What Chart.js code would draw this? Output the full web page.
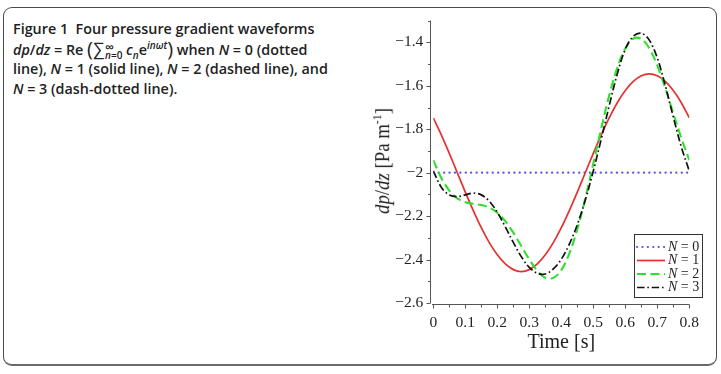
<!DOCTYPE html>
<html><head><meta charset="utf-8">
<script src="https://cdn.jsdelivr.net/npm/chart.js@4.4.0/dist/chart.umd.min.js"></script>
<style>
html,body{margin:0;padding:0;background:#fff;}
#wrap{position:relative;width:721px;height:374px;overflow:hidden;background:#fff;}
#frame{position:absolute;left:3px;top:7px;width:712px;height:356px;border:1.5px solid #4a4a4a;border-bottom:2.5px solid #6a6a6a;border-radius:9px;box-sizing:content-box;}
#cap{position:absolute;left:13px;top:19.3px;font-family:'Open Sans',sans-serif;font-weight:600;font-size:14.35px;color:#222;letter-spacing:0;white-space:nowrap;}
#cap .ln{height:19.3px;line-height:19.3px;}
#cap .ln2{margin-top:1.4px;}
#cap sup,#cap sub{font-size:10px;line-height:0;}
#cap .bp{font-size:20px;font-weight:400;line-height:0;vertical-align:-1px;}
#cap .sum{font-size:17.5px;font-weight:400;line-height:0;}
#cap .lim{display:inline-block;vertical-align:-4px;line-height:9px;font-size:10px;text-align:left;margin-left:1px;}
#cap .lim span{display:block;}
#cap .inf{font-size:13px;line-height:8px;}
canvas{position:absolute;left:0;top:0;}
#ytitle{position:absolute;left:382px;top:161px;transform:translate(-50%,-50%) rotate(-90deg) scaleX(0.94);font-family:'Liberation Serif',serif;font-size:20px;white-space:nowrap;color:#222;}
#ytitle sup{font-size:12.5px;}
</style>
</head><body>
<div id="wrap">
<div id="frame"></div>
<div id="cap">
<div class="ln">Figure 1&nbsp; Four pressure gradient waveforms</div>
<div class="ln ln2"><i>dp</i>/<i>dz</i> = Re <span class="bp">(</span><span class="sum">∑</span><span class="lim"><span class="inf">∞</span><span><i>n</i>=0</span></span> <i>c<sub>n</sub></i>e<sup><i>inωt</i></sup><span class="bp">)</span> when <i>N</i> = 0 (dotted</div>
<div class="ln">line), <i>N</i> = 1 (solid line), <i>N</i> = 2 (dashed line), and</div>
<div class="ln"><i>N</i> = 3 (dash-dotted line).</div>
</div>
<canvas id="c" width="721" height="374"></canvas>
<div id="ytitle"><i>dp</i>/<i>dz</i> [Pa m<sup>-1</sup>]</div>
</div>
<script>
const T = [0,0.025,0.05,0.075,0.1,0.125,0.15,0.175,0.2,0.225,0.25,0.275,0.3,0.325,0.35,0.375,0.4,0.425,0.45,0.475,0.5,0.525,0.55,0.575,0.6,0.625,0.65,0.675,0.7,0.725,0.75,0.775,0.8];
const N0 = [-2,-2,-2,-2,-2,-2,-2,-2,-2,-2,-2,-2,-2,-2,-2,-2,-2,-2,-2,-2,-2,-2,-2,-2,-2,-2,-2,-2,-2,-2,-2,-2,-2];
const N1 = [-1.747,-1.826,-1.911,-2.000,-2.089,-2.174,-2.253,-2.322,-2.378,-2.420,-2.446,-2.455,-2.446,-2.420,-2.378,-2.322,-2.253,-2.174,-2.089,-2.000,-1.911,-1.826,-1.747,-1.678,-1.622,-1.580,-1.554,-1.545,-1.554,-1.580,-1.622,-1.678,-1.747];
const N2 = [-1.942,-2.024,-2.082,-2.118,-2.136,-2.143,-2.149,-2.160,-2.184,-2.223,-2.276,-2.337,-2.399,-2.451,-2.483,-2.484,-2.448,-2.372,-2.260,-2.118,-1.958,-1.795,-1.643,-1.516,-1.428,-1.383,-1.384,-1.427,-1.507,-1.611,-1.727,-1.840,-1.942];
const N3 = [-1.992,-2.067,-2.103,-2.110,-2.102,-2.094,-2.102,-2.131,-2.182,-2.249,-2.321,-2.386,-2.436,-2.463,-2.466,-2.443,-2.398,-2.329,-2.239,-2.126,-1.992,-1.844,-1.690,-1.545,-1.432,-1.372,-1.358,-1.390,-1.472,-1.599,-1.744,-1.881,-1.992];
const SERIES_NAMES = ['0','1','2','3'];
const Y_TICKS = [-2.6,-2.4,-2.2,-2,-1.8,-1.6,-1.4];
const Y_TICK_LABELS = ['\u22122.6','\u22122.4','\u22122.2','\u22122','\u22121.8','\u22121.6','\u22121.4'];
const Y_MINOR = [-2.5,-2.3,-2.1,-1.9,-1.7,-1.5,-1.3];
const X_TICKS = [0,0.1,0.2,0.3,0.4,0.5,0.6,0.7,0.8];
const X_TICK_LABELS = ['0','0.1','0.2','0.3','0.4','0.5','0.6','0.7','0.8'];
const X_MINOR = [0.05,0.15,0.25,0.35,0.45,0.55,0.65,0.75];

const SERIES = [N0,N1,N2,N3];
const STYLES = [
  {color:'#5555e8', dash:[0.1,5.3], width:2.2, order:3, cap:'round'},
  {color:'#e8302e', dash:[], width:1.7, order:2, cap:'butt'},
  {color:'#2ee02e', dash:[9,4.5], width:2.1, order:1, cap:'butt'},
  {color:'#111111', dash:[7.5,2.8,1.6,2.8], width:1.7, order:0, cap:'butt'}
];

const axesPlugin = {
  id:'axesDeco',
  afterDraw(chart){
    const {ctx, chartArea:a, scales:{x,y}} = chart;
    ctx.save();
    ctx.strokeStyle = '#555';
    ctx.lineWidth = 1;
    const ax = Math.round(a.left - 3) + 0.5;
    const ay = Math.round(a.bottom + 0.5) + 0.5;
    ctx.beginPath();
    ctx.moveTo(ax, a.top); ctx.lineTo(ax, y.getPixelForValue(-2.6));
    ctx.moveTo(ax + 1.5, ay); ctx.lineTo(x.getPixelForValue(0.8), ay);
    Y_TICKS.forEach(v=>{const p=Math.round(y.getPixelForValue(v))+0.5; ctx.moveTo(ax-4,p); ctx.lineTo(ax,p);});
    Y_MINOR.forEach(v=>{const p=Math.round(y.getPixelForValue(v))+0.5; ctx.moveTo(ax-2.5,p); ctx.lineTo(ax,p);});
    X_TICKS.forEach(v=>{const p=Math.round(x.getPixelForValue(v))+0.5; ctx.moveTo(p,ay); ctx.lineTo(p,ay+4);});
    X_MINOR.forEach(v=>{const p=Math.round(x.getPixelForValue(v))+0.5; ctx.moveTo(p,ay); ctx.lineTo(p,ay+3);});
    ctx.stroke();

    // legend
    const bx = 634.5, by = 234.5, bw = 68, bh = 63;
    ctx.fillStyle = '#fff';
    ctx.fillRect(bx, by, bw, bh);
    ctx.strokeStyle = '#333';
    ctx.lineWidth = 1;
    ctx.strokeRect(bx, by, bw, bh);
    const rows = [247, 260.5, 274, 287.5];
    chart.data.datasets.forEach((ds,i)=>{
      const r = rows[i];
      ctx.save();
      ctx.strokeStyle = ds.borderColor;
      ctx.lineWidth = ds.borderWidth;
      ctx.setLineDash(ds.borderDash || []);
      ctx.lineCap = ds.borderCapStyle || 'butt';
      ctx.beginPath(); ctx.moveTo(637, r); ctx.lineTo(665, r); ctx.stroke();
      ctx.restore();
      ctx.fillStyle = '#222';
      ctx.textBaseline = 'middle';
      ctx.textAlign = 'left';
      ctx.font = 'italic 14px "Liberation Serif"';
      ctx.fillText('N', 668, r);
      const w = ctx.measureText('N').width;
      ctx.font = '14px "Liberation Serif"';
      ctx.fillText(' = ' + SERIES_NAMES[i], 668 + w, r);
    });
    ctx.restore();
  }
};

new Chart(document.getElementById('c'), {
  type:'line',
  data:{
    datasets: SERIES.map((s,i)=>({
      label:'N = ' + SERIES_NAMES[i],
      data: T.map((t,j)=>({x:t, y:s[j]})),
      borderColor: STYLES[i].color,
      borderDash: STYLES[i].dash,
      borderWidth: STYLES[i].width,
      borderCapStyle: STYLES[i].cap,
      order: STYLES[i].order,
      pointRadius:0,
      tension:0.35,
      fill:false
    }))
  },
  options:{
    responsive:false,
    animation:false,
    devicePixelRatio:1,
    layout:{padding:{left:360, right:31.7, top:20.6, bottom:0}},
    plugins:{legend:{display:false}, tooltip:{enabled:false}},
    scales:{
      x:{
        type:'linear', min:0, max:0.8,
        grid:{display:false, drawTicks:false, tickLength:0}, border:{display:false},
        afterBuildTicks:s=>{s.ticks = X_TICKS.map(v=>({value:v}));},
        afterFit:s=>{s.height = 70.9;},
        ticks:{padding:11, maxRotation:0, autoSkip:false, color:'#222', font:{family:'Liberation Serif', size:15.5},
          callback:(v,i)=>X_TICK_LABELS[i]},
        title:{display:true, text:'Time [s]', color:'#222', font:{family:'Liberation Serif', size:20}, padding:{top:0,bottom:19}}
      },
      y:{
        type:'linear', min:-2.6, max:-1.3,
        grid:{display:false, drawTicks:false, tickLength:0}, border:{display:false},
        afterBuildTicks:s=>{s.ticks = Y_TICKS.map(v=>({value:v}));},
        afterFit:s=>{s.width = 73.3;},
        ticks:{padding:10, autoSkip:false, color:'#222', font:{family:'Liberation Serif', size:15.5},
          callback:(v,i)=>Y_TICK_LABELS[i]}
      }
    }
  },
  plugins:[axesPlugin]
});
</script>
</body></html>
